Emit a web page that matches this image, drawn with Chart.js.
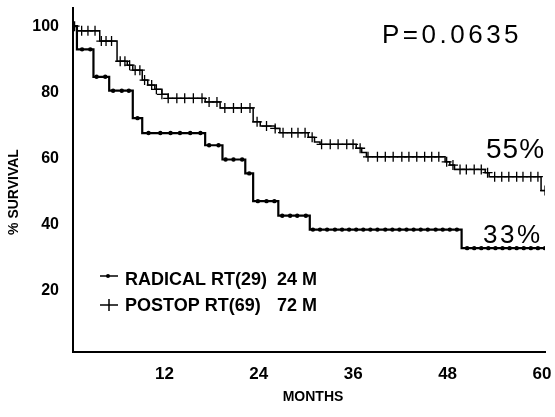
<!DOCTYPE html>
<html>
<head>
<meta charset="utf-8">
<script src="https://cdn.jsdelivr.net/npm/chart.js@4.4.1/dist/chart.umd.min.js"></script>
<style>
html,body{margin:0;padding:0;background:#fff;}
canvas{display:block;}
</style>
</head>
<body>
<canvas id="c" width="555" height="417"></canvas>
<script>
// ---- data ----
const xTickValues = [12, 24, 36, 48, 60];
const yTickValues = [20, 40, 60, 80, 100];
const seriesNames = ['RADICAL RT(29)', 'POSTOP RT(69)'];
const seriesMedians = ['24 M', '72 M'];
const pValueText = 'P=0.0635';
const endLabels = ['33%', '55%'];
const xTitle = 'MONTHS';
const yTitle = '% SURVIVAL';

// Radical RT: step times (months) and survival (%) after each step
const radicalTimes = [0, 0.5, 2.6, 4.6, 7.6, 8.8, 16.8, 19.0, 21.9, 22.9, 26.1, 30.1, 49.4, 60];
const radicalSurv  = [100, 93.0, 84.7, 80.5, 72.2, 67.7, 64.0, 59.7, 55.5, 47.1, 42.7, 38.5, 32.9, 32.9];
const radicalMarks = [1.15, 2.2, 3.0, 4.1, 5.1, 6.2, 7.1, 8.2, 9.6, 11.1, 12.4, 13.6, 14.9, 16.2,
  17.3, 18.5, 19.4, 20.4, 21.5, 22.4, 23.5, 24.6, 25.6, 26.6, 27.6, 28.5, 29.6,
  30.5, 31.4, 32.3, 33.3, 34.2, 35.1, 36.0, 36.9, 37.8, 38.7, 39.7, 40.6, 41.5, 42.4, 43.3,
  44.2, 45.1, 46.1, 47.0, 47.9, 48.8,
  50.1, 51.0, 51.9, 52.8, 53.7, 54.6, 55.5, 56.4, 57.3, 58.2, 59.1, 60.0];

// Postop RT
const postopTimes = [0, 0.5, 3.4, 5.6, 6.9, 7.6, 8.8, 9.5, 10.4, 11.3, 12.1, 16.8, 18.7, 22.9, 23.8,
  25.7, 26.3, 29.9, 30.7, 31.4, 36.0, 36.7, 37.3, 47.3, 47.9, 48.5, 52.4, 52.9, 59.5, 60];
const postopSurv = [100, 98.6, 95.5, 89.4, 88.2, 86.7, 83.7, 82.2, 80.9, 79.4, 78.2, 77.1, 75.3, 71.1, 69.8,
  69.1, 67.8, 66.4, 65.0, 64.3, 63.1, 61.8, 60.5, 59.0, 58.0, 56.7, 55.7, 54.5, 50.3, 50.3];
const postopMarks = [0.2, 1.1, 1.9, 2.8, 3.6, 4.2, 4.9, 6.0, 6.6, 7.2, 7.9, 8.5, 9.1, 10.0, 10.6, 11.3,
  12.1, 13.2, 14.2, 15.3, 16.4, 17.3, 18.3, 19.3, 20.4, 21.4, 22.5, 23.4, 24.6, 25.7, 26.7,
  27.8, 28.6, 29.5, 30.4, 31.6, 32.7, 33.7, 34.8, 35.6, 36.5, 37.5, 38.7, 39.7, 40.7, 41.8,
  42.7, 43.7, 44.7, 45.6, 46.5, 47.5, 48.3, 49.2, 50.0, 51.0, 51.9, 52.7, 53.6, 54.5, 55.4,
  56.4, 57.2, 58.2, 59.1, 60.0];

// ---- helpers ----
function stepPoints(times, surv) {
  return times.map((t, i) => ({x: t, y: surv[i]}));
}
function levelAt(times, surv, t) {
  let v = surv[0];
  for (let i = 0; i < times.length; i++) { if (times[i] <= t) v = surv[i]; }
  return v;
}
function markPoints(marks, times, surv) {
  return marks.map(t => ({x: t, y: levelAt(times, surv, t)}));
}

const FONT = "'Liberation Sans', Arial, Helvetica, sans-serif";
Chart.defaults.font.family = FONT;
Chart.defaults.color = '#000';

const annotations = {
  id: 'annotations',
  afterDraw(chart) {
    const ctx = chart.ctx;
    ctx.save();
    ctx.fillStyle = '#000';
    ctx.strokeStyle = '#000';

    // P value
    ctx.font = '26px ' + FONT;
    ctx.textBaseline = 'alphabetic';
    ctx.textAlign = 'left';
    ctx.letterSpacing = '3.5px';
    ctx.fillText(pValueText, 382, 43);
    // end labels
    ctx.font = '28px ' + FONT;
    ctx.letterSpacing = '1px';
    ctx.fillText(endLabels[1], 486, 158);
    ctx.font = '26px ' + FONT;
    ctx.letterSpacing = '2.5px';
    ctx.fillText(endLabels[0], 483, 243);
    ctx.letterSpacing = '0px';

    // legend
    const legY = [276, 305];
    ctx.lineWidth = 1.5;
    for (let i = 0; i < 2; i++) {
      ctx.beginPath();
      ctx.moveTo(100, legY[i]);
      ctx.lineTo(118, legY[i]);
      ctx.stroke();
    }
    ctx.beginPath();
    ctx.arc(108, legY[0], 2, 0, Math.PI * 2);
    ctx.fill();
    ctx.beginPath();
    ctx.moveTo(109, legY[1] - 6);
    ctx.lineTo(109, legY[1] + 6);
    ctx.stroke();

    ctx.font = 'bold 18px ' + FONT;
    ctx.textBaseline = 'middle';
    ctx.fillText(seriesNames[0], 125, 280);
    ctx.fillText(seriesNames[1], 125, 306);
    ctx.fillText(seriesMedians[0], 277, 280);
    ctx.fillText(seriesMedians[1], 277, 306);

    // axis titles
    ctx.font = 'bold 14px ' + FONT;
    ctx.textAlign = 'center';
    ctx.fillText(xTitle, 313, 397);
    ctx.translate(14, 192);
    ctx.rotate(-Math.PI / 2);
    ctx.fillText(yTitle, 0, 0);
    ctx.restore();
  }
};

new Chart(document.getElementById('c'), {
  type: 'scatter',
  data: {
    datasets: [
      {
        data: markPoints(radicalMarks, radicalTimes, radicalSurv),
        showLine: false, pointStyle: 'circle', pointRadius: 2.2, pointHoverRadius: 0,
        backgroundColor: '#000', borderColor: '#000', borderWidth: 0
      },
      {
        data: markPoints(postopMarks, postopTimes, postopSurv),
        showLine: false, pointStyle: 'cross', pointRadius: 5, pointHoverRadius: 0,
        borderColor: '#000', borderWidth: 1.3
      },
      {
        data: stepPoints(radicalTimes, radicalSurv),
        showLine: true, stepped: true, pointRadius: 0, pointHoverRadius: 0,
        borderColor: '#000', borderWidth: 2.2
      },
      {
        data: stepPoints(postopTimes, postopSurv),
        showLine: true, stepped: true, pointRadius: 0, pointHoverRadius: 0,
        borderColor: '#000', borderWidth: 1.5
      }
    ]
  },
  options: {
    responsive: false,
    animation: false,
    devicePixelRatio: 1,
    events: [],
    layout: {autoPadding: false, padding: {left: 0, top: 8, right: 10, bottom: 0}},
    plugins: {legend: {display: false}, tooltip: {enabled: false}},
    scales: {
      x: {
        type: 'linear', min: 0, max: 60,
        afterBuildTicks: s => { s.ticks = xTickValues.map(v => ({value: v})); },
        afterFit: s => { s.height = 65; s.paddingLeft = 0; s.paddingRight = 0; },
        grid: {display: false, drawTicks: false},
        border: {display: true, color: '#000', width: 2},
        ticks: {color: '#000', font: {size: 17, weight: 'bold'}, padding: 12, labelOffset: -3,
                maxRotation: 0, autoSkip: false}
      },
      y: {
        type: 'linear', min: 1.5, max: 105.5,
        afterBuildTicks: s => { s.ticks = yTickValues.map(v => ({value: v})); },
        afterFit: s => { s.width = 73; s.paddingTop = 0; s.paddingBottom = 0; },
        grid: {display: false, drawTicks: false},
        border: {display: true, color: '#000', width: 2},
        ticks: {color: '#000', font: {size: 16, weight: 'bold'}, padding: 14}
      }
    }
  },
  plugins: [annotations]
});
</script>
</body>
</html>
